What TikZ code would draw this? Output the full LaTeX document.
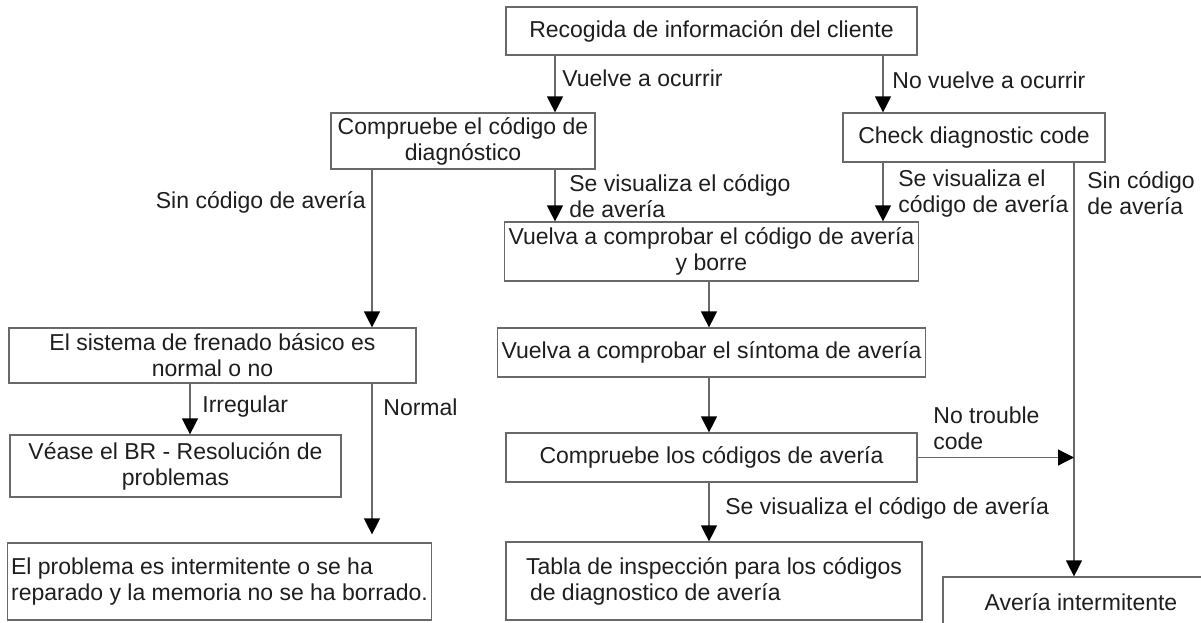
\documentclass[tikz,border=0pt]{standalone}
\usepackage{fontspec}
\setmainfont{Liberation Sans}
\usepackage{tikz}
\usetikzlibrary{arrows.meta,positioning}
\definecolor{framegray}{RGB}{105,105,105}
\definecolor{inkgray}{RGB}{30,30,30}

\begin{document}
\begin{tikzpicture}[x=0.5pt,y=-0.5pt,>={Triangle[length=8pt,width=8pt,color=black]},
    every node/.style={font=\fontsize{11.5}{13}\selectfont},
    box/.style={draw=framegray,line width=0.6pt,text=inkgray,align=center,inner sep=2pt},
    lbl/.style={text=inkgray,align=left,inner sep=0pt,anchor=west},
    conn/.style={draw=framegray,line width=0.6pt}]
  \useasboundingbox (0,0) rectangle (1201,622);
  % x positions of the vertical connectors
  \coordinate (colA) at (555,0);
  \coordinate (colB) at (883,0);
  \coordinate (colC) at (372,0);
  \coordinate (colD) at (709,0);
  \coordinate (colE) at (1074,0);
  \coordinate (colF) at (190,0);

  \node[box,minimum width=205.5pt,minimum height=24pt] (info) at (711.5,31)
        {Recogida de información del cliente};
  \node[box,minimum width=132pt,minimum height=28pt] (diag) at (463,141)
        {Compruebe el código de\\diagnóstico};
  \node[box,minimum width=131pt,minimum height=24.5pt] (check) at (974,137.5)
        {Check diagnostic code};
  \node[box,minimum width=205.5pt,minimum height=29.5pt] (borre) at (711.5,251.5)
        {Vuelva a comprobar el código de avería\\y borre};
  \node[box,minimum width=205.5pt,minimum height=24.5pt] (sintoma) at (711.5,352.5)
        {Vuelva a comprobar el síntoma de avería};
  \node[box,minimum width=205.5pt,minimum height=24.5pt] (codigos) at (711.5,457.5)
        {Compruebe los códigos de avería};
  \node[box,align=left,minimum width=208pt,minimum height=39pt] (tabla) at (714,581)
        {Tabla de inspección para los códigos\\\hspace{2pt}de diagnostico de avería};
  \node[box,minimum width=138pt,minimum height=25.5pt] (interm) at (1081,602.5)
        {Avería intermitente};
  \node[box,minimum width=203.5pt,minimum height=27.5pt] (frenado) at (212.5,355.5)
        {El sistema de frenado básico es\\normal o no};
  \node[box,minimum width=165.5pt,minimum height=31pt] (br) at (175.5,466)
        {Véase el BR - Resolución de\\problemas};
  \node[box,align=left,minimum width=210.5pt,minimum height=38.5pt] (problema) at (219.5,581.5)
        {El problema es intermitente o se ha\\reparado y la memoria no se ha borrado.};

  % connector labels
  \node[lbl] (lvuelve) at (562,78) {Vuelve a ocurrir};
  \node[lbl] (lnovuelve) at (892,80) {No vuelve a ocurrir};
  \node[lbl,anchor=east] (lsincod) at (366,202) {Sin código de avería};
  \node[lbl] (lsevisA) at (569,196.5) {Se visualiza el código\\de avería};
  \node[lbl] (lsevisB) at (898,193.5) {Se visualiza el\\código de avería};
  \node[lbl] (lsincodB) at (1087,193.5) {Sin código\\de avería};
  \node[lbl] (lnotrouble) at (933,428) {No trouble\\code};
  \node[lbl] (lsevisC) at (725,508) {Se visualiza el código de avería};
  \node[lbl] (lirreg) at (202,407) {Irregular};
  \node[lbl] (lnormal) at (383,407) {Normal};

  \draw[conn,->] (info.south -| colA) -- (diag.north -| colA);
  \draw[conn,->] (info.south -| colB) -- (check.north -| colB);
  \draw[conn,->] (diag.south -| colC) -- (frenado.north -| colC);
  \draw[conn,->] (diag.south -| colA) -- (borre.north -| colA);
  \draw[conn,->] (check.south -| colB) -- (borre.north -| colB);
  \draw[conn,->] (check.south -| colE) -- (interm.north -| colE);
  \foreach \a/\b in {borre/sintoma,sintoma/codigos,codigos/tabla}
    \draw[conn,->] (\a.south -| colD) -- (\b.north -| colD);
  \draw[conn,->] (codigos.east) -- (codigos.east -| colE);
  \draw[conn,->] (frenado.south -| colF) -- (br.north -| colF);
  \draw[conn,->,shorten >=4pt] (frenado.south -| colC) -- (problema.north -| colC);
\end{tikzpicture}
\end{document}
